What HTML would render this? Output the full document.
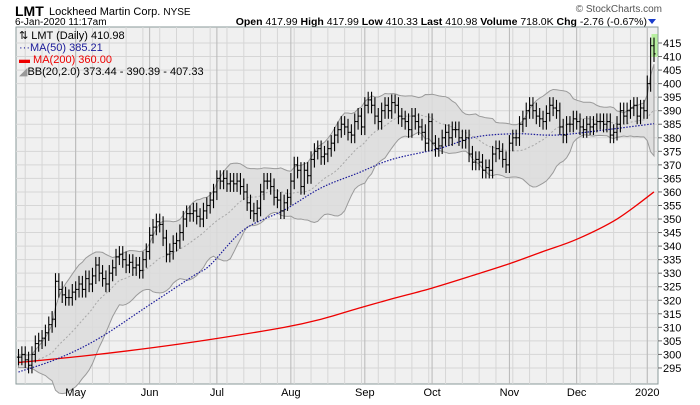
<!DOCTYPE html>
<html><head><meta charset="utf-8"><style>
body{margin:0;background:#fff;width:700px;height:400px;overflow:hidden;font-family:"Liberation Sans",sans-serif}
</style></head><body>
<svg id="c" width="700" height="400" xmlns="http://www.w3.org/2000/svg" font-family="Liberation Sans, sans-serif">
<text x="15" y="16" font-size="14" font-weight="bold" fill="#000">LMT</text>
<text x="49" y="15" font-size="11" fill="#000">Lockheed Martin Corp.  <tspan font-size="10">NYSE</tspan></text>
<text x="15" y="25" font-size="10" fill="#000">6-Jan-2020 11:17am</text>
<text x="647" y="25" font-size="10.5" text-anchor="end" fill="#000"><tspan font-weight="bold">Open</tspan> 417.99  <tspan font-weight="bold">High</tspan> 417.99  <tspan font-weight="bold">Low</tspan> 410.33  <tspan font-weight="bold">Last</tspan> 410.98  <tspan font-weight="bold">Volume</tspan> 718.0K  <tspan font-weight="bold">Chg</tspan> -2.76 (-0.67%)</text>
<polygon points="648,19 656,19 652,24" fill="#1a3ccc"/>
<text x="662" y="12" font-size="10" text-anchor="end" fill="#555">© StockCharts.com</text>
<rect x="16" y="27" width="642" height="357" fill="#f0f0f0" stroke="#8a9a9a"/>
<g id="grid"></g><g id="bb"></g><g id="ma"></g><g id="bars"></g><g id="axis"></g>
<g font-size="11">
<text x="19" y="39">⇅ LMT (Daily) 410.98</text>
<text x="19" y="51" fill="#1a1a99">···MA(50) 385.21</text>
<text x="19" y="63" fill="#ee0000">▬ MA(200) 360.00</text>
<text x="19" y="75" fill="#000"><tspan fill="#999">◢</tspan>BB(20,2.0) 373.44 - 390.39 - 407.33</text>
</g>
</svg>
<script>
const priorCloses=[300,298,297,299,296,298,297,296,299,298,297,296,297,298,296,297,298,296,297];
const closes=[299,300,298,296,300,304,305,306,308,311,313,
327,324,322,321,321,323,
324,326,324,328,326,329,333,330,328,326,330,332,336,337,335,333,334,332,333,331,335,338,
344,347,349,348,343,337,338,341,342,345,350,352,352,353,351,350,353,355,357,360,
365,364,365,363,364,363,364,362,360,356,353,352,354,360,364,364,362,358,357,353,356,358,
364,370,368,362,368,366,372,375,376,373,374,376,378,381,383,385,384,382,381,386,388,384,
392,394,392,388,386,390,392,390,393,392,388,387,386,383,388,386,384,382,378,386,
378,376,377,380,382,380,383,383,380,379,380,374,371,372,371,368,369,368,374,376,375,372,370,
378,380,380,385,387,390,392,390,388,387,386,389,392,391,390,384,381,385,385,387,
386,384,383,385,384,385,386,386,385,386,381,382,385,390,388,390,391,392,388,391,390,
400,414,411];
const ma50Idx=[0,12,24,38,52,57,67,79,90,101,111,125,136,148,160,175,189];
const ma50Val=[293.5,298.6,306,317.5,329,333,346,353.3,361.5,367,372,376,380.3,381.5,381,383,385.2];
const ma200Idx=[0,20,40,57,79,90,101,111,123,136,146,156,166,178,189];
const ma200Val=[297,299.5,302.5,305.5,310,313,317,320.5,324.5,329.5,333.5,338,342.5,350,360];
const yTicks=[295,300,305,310,315,320,325,330,335,340,345,350,355,360,365,370,375,380,385,390,395,400,405,410,415];
const monthLabels=["May","Jun","Jul","Aug","Sep","Oct","Nov","Dec","2020"];
const monthIdx=[17,39,59,81,103,123,146,166,187];
const NS="http://www.w3.org/2000/svg";
const n=closes.length;
const X=i=>18.5+i*(654-18.5)/(n-1);
const Y=v=>43+(415-v)*2.708;
function mk(t,a,p){const e=document.createElementNS(NS,t);for(const k in a)e.setAttribute(k,a[k]);p.appendChild(e);return e;}
function smooth(pts){let d='M'+pts[0][0]+','+pts[0][1];for(let i=0;i<pts.length-1;i++){const p0=pts[i-1]||pts[i],p1=pts[i],p2=pts[i+1],p3=pts[i+2]||p2;d+=' C'+(p1[0]+(p2[0]-p0[0])/6)+','+(p1[1]+(p2[1]-p0[1])/6)+' '+(p2[0]-(p3[0]-p1[0])/6)+','+(p2[1]-(p3[1]-p1[1])/6)+' '+p2[0]+','+p2[1];}return d;}
const grid=document.getElementById('grid'),axis=document.getElementById('axis');
yTicks.forEach(v=>{
 const l=mk('line',{x1:16,x2:658,y1:Y(v),y2:Y(v),stroke:'#d6d6d6','stroke-width':1},grid);
 
 
 const t=mk('line',{x1:658,x2:662,y1:Y(v),y2:Y(v),stroke:'#666'},axis);
 
 
 const tx=mk('text',{x:663,y:Y(v)+4,'font-size':11,fill:'#000'},axis);
 tx.textContent=v;
 
 
});
for(let i=2;i<n;i+=5){
 const l=mk('line',{x1:X(i),x2:X(i),y1:27,y2:384,stroke:'#d6d6d6'},grid);
 
 
}
monthIdx.forEach((mi,k)=>{
 const l=mk('line',{x1:X(mi),x2:X(mi),y1:27,y2:384,stroke:'#b8b8b8'},grid);
 
 
 const t=mk('text',{x:X(mi),y:396,'font-size':11,'text-anchor':'middle'},axis);
 t.textContent=monthLabels[k];
 
 
});
const all=priorCloses.concat(closes),P=priorCloses.length;
const up=[],mid=[],lo=[];
for(let i=0;i<n;i++){const w=all.slice(i+P-19,i+P+1);const m=w.reduce((a,b)=>a+b,0)/20;const sd=Math.sqrt(w.reduce((a,b)=>a+(b-m)*(b-m),0)/20);mid.push(m);up.push(m+2*sd);lo.push(m-2*sd);}
const bbG=document.getElementById('bb');
let d='M'+up.map((v,i)=>X(i)+','+Y(v)).join(' L')+' L'+lo.map((v,i)=>[i,v]).reverse().map(([i,v])=>X(i)+','+Y(v)).join(' L')+'Z';
const band=mk('path',{d:d,fill:'#dcdcdc','fill-opacity':0.85,stroke:'#9a9a9a','stroke-width':1},bbG);


const mline=mk('polyline',{points:mid.map((v,i)=>X(i)+','+Y(v)).join(' '),fill:'none',stroke:'#a8a8a8','stroke-dasharray':'2,2'},bbG);


const maG=document.getElementById('ma');
const m200=mk('path',{d:smooth(ma200Idx.map((ix,k)=>[X(ix),Y(ma200Val[k])])),fill:'none',stroke:'#ee0000','stroke-width':1.3},maG);


const m50=mk('path',{d:smooth(ma50Idx.map((ix,k)=>[X(ix),Y(ma50Val[k])])),fill:'none',stroke:'#1a1a99','stroke-width':1.2,'stroke-dasharray':'1.5,1.5'},maG);


const hl=mk('rect',{x:X(n-1)-2.5,y:34,width:6,height:23,fill:'#b8f0a0'},maG);


const barsG=document.getElementById('bars');
closes.forEach((c,i)=>{
 const o=i?closes[i-1]:c;const h=Math.max(o,c)+3,l=Math.min(o,c)-3;const x=X(i);
 const g=mk('g',{stroke:'#000','stroke-width':1.1},barsG);
 
 
 mk('line',{x1:x,x2:x,y1:Y(h),y2:Y(l)},g);
 mk('line',{x1:x-1.6,x2:x,y1:Y(o),y2:Y(o)},g);
 mk('line',{x1:x,x2:x+1.6,y1:Y(c),y2:Y(c)},g);
});
</script>
</body></html>
